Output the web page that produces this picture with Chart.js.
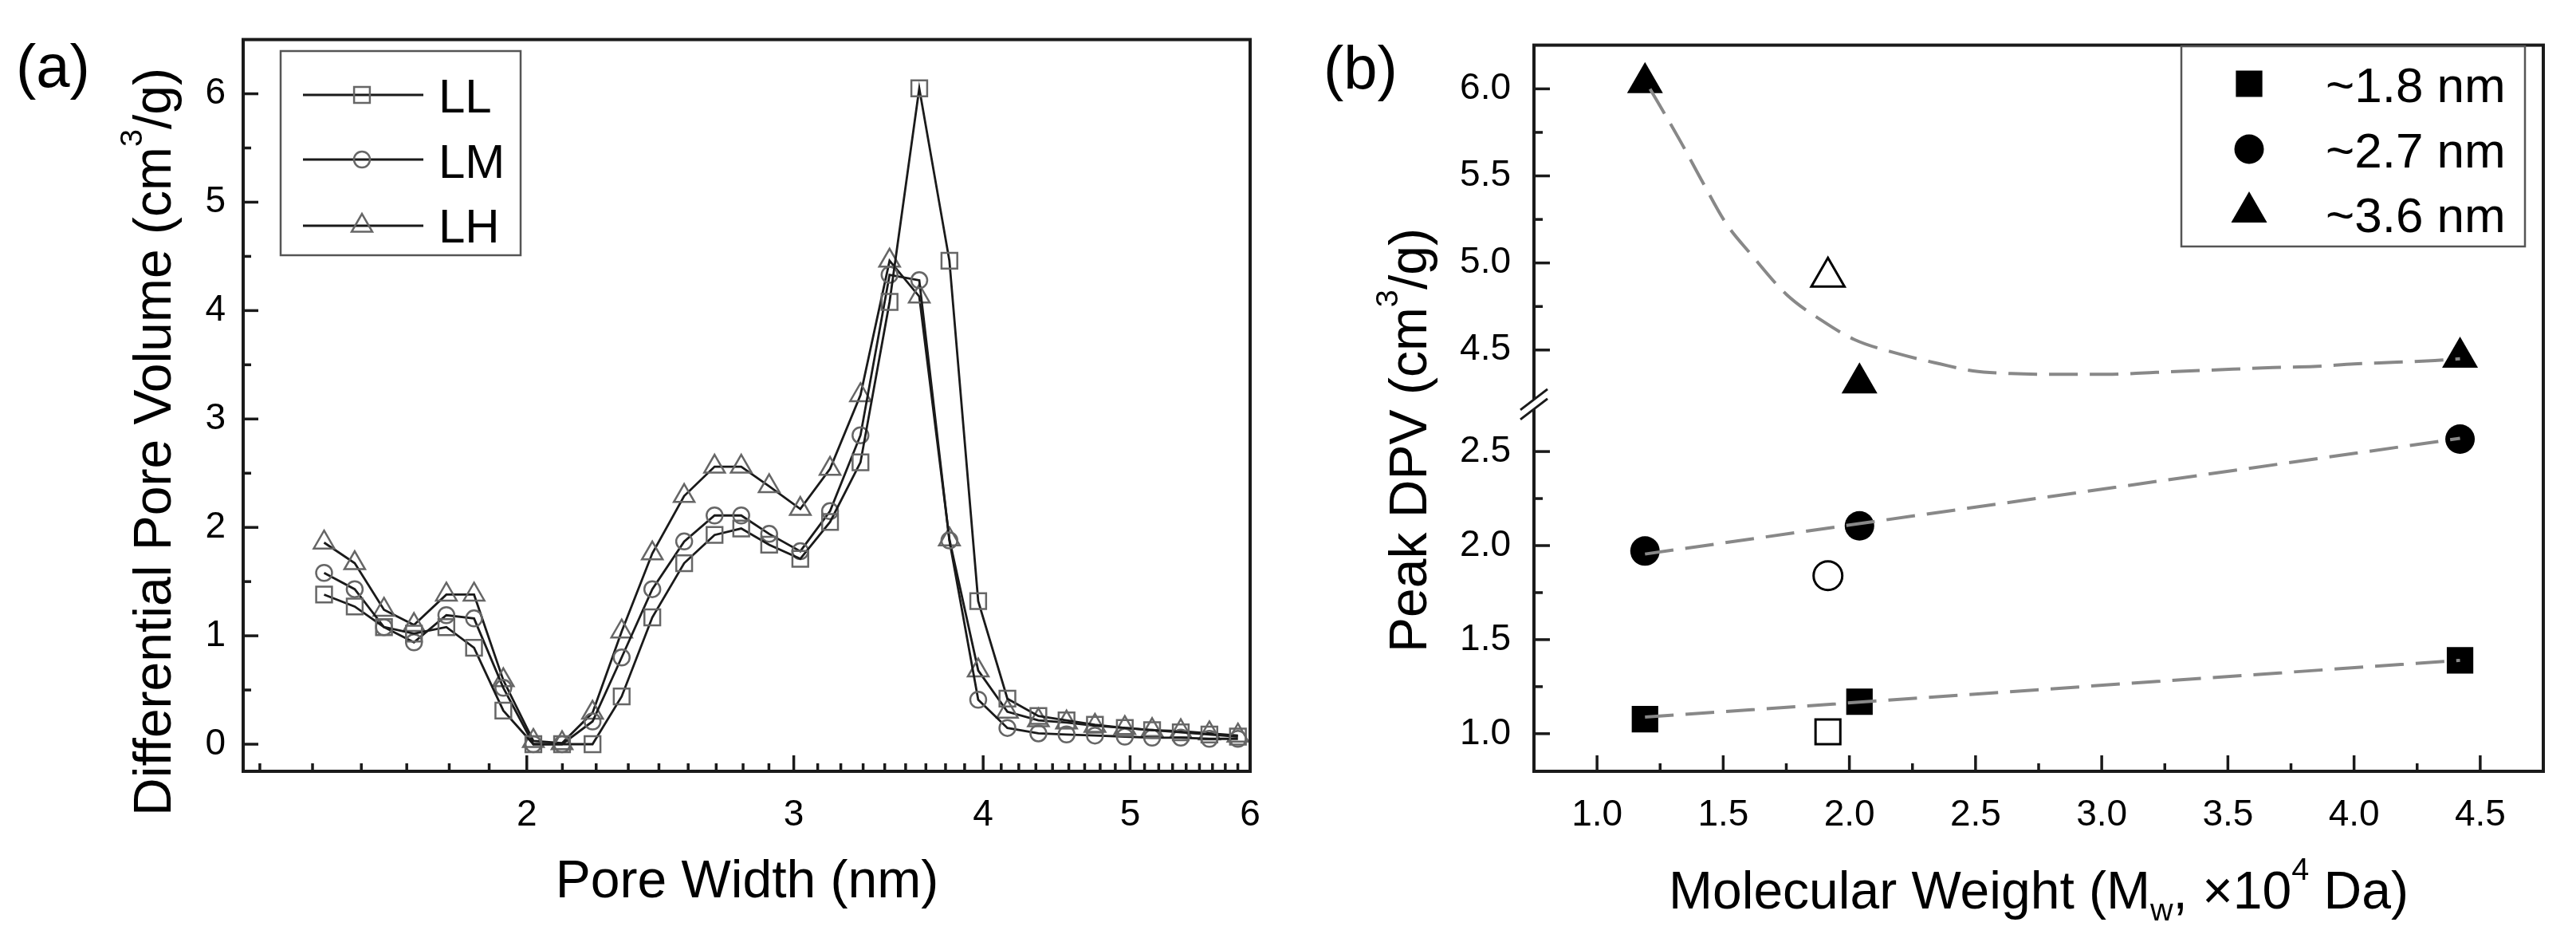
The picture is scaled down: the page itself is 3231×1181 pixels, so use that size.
<!DOCTYPE html>
<html>
<head>
<meta charset="utf-8">
<script src="https://cdn.jsdelivr.net/npm/chart.js@4.4.1/dist/chart.umd.min.js"></script>
<style>
  html, body { margin: 0; padding: 0; background: #fff; }
  #wrap { position: relative; width: 3231px; height: 1181px; }
  canvas { position: absolute; left: 0; top: 0; }
</style>
</head>
<body>
<div id="wrap">
  <canvas id="chartA" width="3231" height="1181"></canvas>
  <canvas id="chartB" width="3231" height="1181"></canvas>
</div>
<script>
// ---------- panel (a): differential pore volume ----------
const poreWidth = [1.47, 1.54, 1.61, 1.685, 1.77, 1.846, 1.93, 2.02, 2.11, 2.21, 2.31,
  2.42, 2.54, 2.66, 2.77, 2.89, 3.03, 3.17, 3.32, 3.47, 3.63, 3.80, 3.97, 4.15,
  4.35, 4.54, 4.74, 4.96, 5.17, 5.40, 5.64, 5.89];
const dpvLL = [1.38, 1.27, 1.08, 1.02, 1.08, 0.89, 0.31, 0.00, 0.00, 0.00, 0.44,
  1.17, 1.67, 1.93, 1.99, 1.84, 1.71, 2.05, 2.60, 4.08, 6.05, 4.46, 1.32, 0.42,
  0.26, 0.22, 0.18, 0.15, 0.13, 0.11, 0.09, 0.07];
const dpvLM = [1.58, 1.43, 1.08, 0.94, 1.19, 1.16, 0.52, 0.00, 0.00, 0.21, 0.80,
  1.43, 1.87, 2.11, 2.11, 1.94, 1.78, 2.15, 2.85, 4.33, 4.28, 1.88, 0.41, 0.15,
  0.10, 0.09, 0.08, 0.07, 0.06, 0.06, 0.05, 0.05];
const dpvLH = [1.86, 1.67, 1.24, 1.10, 1.38, 1.38, 0.59, 0.03, 0.01, 0.29, 1.04,
  1.76, 2.29, 2.56, 2.56, 2.38, 2.17, 2.54, 3.22, 4.46, 4.13, 1.89, 0.68, 0.30,
  0.22, 0.20, 0.17, 0.15, 0.13, 0.12, 0.10, 0.08];
const seriesA = ['LL', 'LM', 'LH'];
const xTicksA = [2, 3, 4, 5, 6];
const yTicksA = [0, 1, 2, 3, 4, 5, 6];

// ---------- panel (b): peak DPV vs molecular weight ----------
const mwFilled = [1.19, 2.04, 4.42];
const peak18 = [1.077, 1.17, 1.39];
const peak27 = [1.971, 2.105, 2.566];
const peak36 = [6.035, 4.31, 4.458];
const mwOpen = [1.915];
const open18 = [1.01];
const open27 = [1.84];
const open36 = [4.92];
const fit18X = [1.19, 4.42];
const fit18Y = [1.088, 1.39];
const fit27X = [1.19, 4.42];
const fit27Y = [1.955, 2.57];
const fit36X = [1.21, 1.33, 1.42, 1.51, 1.61, 1.75, 1.89, 2.02, 2.19, 2.36, 2.49, 2.64,
  2.86, 3.02, 3.19, 3.35, 3.52, 3.68, 3.84, 4.00, 4.17, 4.32, 4.42];
const fit36Y = [6.00, 5.70, 5.46, 5.23, 5.05, 4.82, 4.67, 4.56, 4.48, 4.42, 4.38, 4.365,
  4.36, 4.36, 4.37, 4.38, 4.39, 4.40, 4.405, 4.42, 4.43, 4.44, 4.45];
const seriesB = ['~1.8 nm', '~2.7 nm', '~3.6 nm'];
const xTicksB = [1.0, 1.5, 2.0, 2.5, 3.0, 3.5, 4.0, 4.5];
const yTicksLow = [1.0, 1.5, 2.0, 2.5];
const yTicksHigh = [4.5, 5.0, 5.5, 6.0];

const FONT = "'Liberation Sans', Arial, sans-serif";
const zip = (xs, ys) => xs.map((x, i) => ({ x: x, y: ys[i] }));

// tick labels in the original are a narrow sans; use it if the system has one
function hasFont(name) {
  const c = document.createElement('canvas').getContext('2d');
  c.font = "50px monospace";
  const w0 = c.measureText('2.0 4.5 1.0').width;
  c.font = "50px '" + name + "', monospace";
  return c.measureText('2.0 4.5 1.0').width !== w0;
}
const tickFont = hasFont('Liberation Sans Narrow')
  ? { family: "'Liberation Sans Narrow', " + FONT, size: 50 }
  : { family: FONT, size: 46 };

// minor ticks on the log axis: n + k/9 between integers
const minorLogA = [];
for (let n = 1; n < 6; n++) {
  for (let k = 1; k < 9; k++) {
    const v = n + k / 9;
    if (v > 1.3) minorLogA.push(v);
  }
}

function drawMarker(ctx, style, r, x, y) {
  ctx.beginPath();
  if (style === 'rect') {
    const s = Math.SQRT1_2 * r;
    ctx.rect(x - s, y - s, 2 * s, 2 * s);
  } else if (style === 'triangle') {
    for (let i = 0; i < 3; i++) {
      const a = i * 2 * Math.PI / 3;
      const px = x + Math.sin(a) * r, py = y - Math.cos(a) * r;
      if (i === 0) ctx.moveTo(px, py); else ctx.lineTo(px, py);
    }
    ctx.closePath();
  } else {
    ctx.arc(x, y, r, 0, Math.PI * 2);
  }
}

function drawRich(ctx, segs, x, y, size, rot, align) {
  ctx.save();
  ctx.translate(x, y);
  ctx.rotate(rot || 0);
  ctx.textBaseline = 'alphabetic';
  ctx.textAlign = 'left';
  ctx.fillStyle = '#000';
  let total = 0;
  const parts = segs.map(s => {
    const fs = (s.sup || s.sub) ? size * 0.6 : size;
    ctx.font = fs + 'px ' + FONT;
    const w = ctx.measureText(s.t).width;
    total += w;
    return { s: s, fs: fs, w: w };
  });
  let cx = align === 'center' ? -total / 2 : 0;
  parts.forEach(p => {
    ctx.font = p.fs + 'px ' + FONT;
    const dy = p.s.sup ? -size * 0.55 : (p.s.sub ? size * 0.22 : 0);
    ctx.fillText(p.s.t, cx, dy);
    cx += p.w;
  });
  ctx.restore();
}

// frame, inward ticks, axis break, titles and legend
const decor = {
  id: 'decor',
  afterDraw(chart, args, o) {
    const ctx = chart.ctx, a = chart.chartArea;
    ctx.save();
    ctx.strokeStyle = '#1a1a1a';
    ctx.lineWidth = 4;
    ctx.strokeRect(a.left, a.top, a.right - a.left, a.bottom - a.top);
    ctx.lineWidth = 3.5;
    o.marks.forEach(m => {
      const s = chart.scales[m.scale];
      m.values.forEach(v => {
        const p = s.getPixelForValue(v);
        ctx.beginPath();
        if (s.isHorizontal()) { ctx.moveTo(p, a.bottom); ctx.lineTo(p, a.bottom - m.len); }
        else { ctx.moveTo(a.left, p); ctx.lineTo(a.left + m.len, p); }
        ctx.stroke();
      });
    });
    if (o.breakScale) {
      const yb = chart.scales[o.breakScale].bottom;
      const x0 = a.left, dx = 17, dy = 13, off = 6;
      ctx.fillStyle = '#fff';
      ctx.beginPath();
      ctx.moveTo(x0 - dx, yb + dy - off);
      ctx.lineTo(x0 + dx, yb - dy - off);
      ctx.lineTo(x0 + dx, yb - dy + off);
      ctx.lineTo(x0 - dx, yb + dy + off);
      ctx.closePath();
      ctx.fill();
      ctx.lineWidth = 3;
      [-off, off].forEach(d => {
        ctx.beginPath();
        ctx.moveTo(x0 - dx, yb + dy + d);
        ctx.lineTo(x0 + dx, yb - dy + d);
        ctx.stroke();
      });
    }
    o.texts.forEach(t => drawRich(ctx, t.segs, t.x, t.y, t.size, t.rot, t.align));
    const L = o.legend;
    ctx.strokeStyle = '#555';
    ctx.lineWidth = 2.5;
    ctx.strokeRect(L.box[0], L.box[1], L.box[2] - L.box[0], L.box[3] - L.box[1]);
    L.items.forEach((it, i) => {
      const ds = chart.data.datasets[it.ds];
      const y = L.rows[i];
      if (L.line) {
        ctx.strokeStyle = ds.borderColor;
        ctx.lineWidth = ds.borderWidth;
        ctx.beginPath();
        ctx.moveTo(L.line[0], y); ctx.lineTo(L.line[1], y);
        ctx.stroke();
      }
      drawMarker(ctx, ds.pointStyle, ds.pointRadius, L.markerX, y);
      if (ds.pointBackgroundColor && ds.pointBackgroundColor !== 'transparent') {
        ctx.fillStyle = ds.pointBackgroundColor; ctx.fill();
      }
      if (ds.pointBorderWidth > 0) {
        ctx.strokeStyle = ds.pointBorderColor; ctx.lineWidth = ds.pointBorderWidth; ctx.stroke();
      }
      ctx.fillStyle = '#000';
      ctx.font = L.size + 'px ' + FONT;
      ctx.textBaseline = 'alphabetic';
      ctx.textAlign = 'left';
      ctx.fillText(it.label, L.textX, L.base[i]);
    });
    ctx.restore();
  }
};

const noGrid = { display: false, drawTicks: false };
const setTicks = list => s => { s.ticks = list.map(v => ({ value: v })); };

// ---------- chart (a) ----------
const lineA = (label, ys, style, r) => ({
  label: label,
  data: zip(poreWidth, ys),
  showLine: true,
  borderColor: '#1a1a1a',
  borderWidth: 2.8,
  pointStyle: style,
  pointRadius: r,
  pointBackgroundColor: 'transparent',
  pointBorderColor: '#666',
  pointBorderWidth: 2.5,
  tension: 0
});

new Chart(document.getElementById('chartA'), {
  type: 'scatter',
  data: {
    datasets: [
      lineA(seriesA[0], dpvLL, 'rect', 14),
      lineA(seriesA[1], dpvLM, 'circle', 10),
      lineA(seriesA[2], dpvLH, 'triangle', 15)
    ]
  },
  options: {
    responsive: false,
    animation: false,
    devicePixelRatio: 1,
    layout: { padding: { left: 205, right: 1663, top: 37, bottom: 114 } },
    plugins: {
      legend: { display: false },
      tooltip: { enabled: false },
      decor: {
        marks: [
          { scale: 'x', values: xTicksA, len: 20 },
          { scale: 'x', values: minorLogA, len: 10 },
          { scale: 'y', values: yTicksA, len: 19 },
          { scale: 'y', values: [0.5, 1.5, 2.5, 3.5, 4.5, 5.5], len: 10 }
        ],
        texts: [
          { segs: [{ t: '(a)' }], x: 20, y: 109, size: 76 },
          { segs: [{ t: 'Pore Width (nm)' }], x: 937, y: 1125, size: 66, align: 'center' },
          { segs: [{ t: 'Differential Pore Volume (cm' }, { t: '3', sup: true }, { t: '/g)' }],
            x: 214, y: 554, size: 66, rot: -Math.PI / 2, align: 'center' }
        ],
        legend: {
          box: [352, 64, 653, 320],
          line: [380, 531],
          markerX: 454,
          rows: [119, 200, 283],
          base: [141, 223, 304],
          textX: 550,
          size: 60,
          items: [{ ds: 0, label: seriesA[0] }, { ds: 1, label: seriesA[1] }, { ds: 2, label: seriesA[2] }]
        }
      }
    },
    scales: {
      x: {
        type: 'logarithmic', min: 1.3, max: 6,
        afterBuildTicks: setTicks(xTicksA),
        afterFit: s => { s.height = 100; },
        grid: noGrid, border: { display: false },
        ticks: { font: tickFont, color: '#000', padding: 28, maxRotation: 0, autoSkip: false,
          callback: v => String(v) }
      },
      y: {
        type: 'linear', min: -0.25, max: 6.5,
        afterBuildTicks: setTicks(yTicksA),
        afterFit: s => { s.width = 100; },
        grid: noGrid, border: { display: false },
        ticks: { font: tickFont, color: '#000', padding: 22, callback: v => String(v) }
      }
    }
  },
  plugins: [decor]
});

// ---------- chart (b) ----------
const fitLine = (xs, ys, axis) => ({
  data: zip(xs, ys),
  yAxisID: axis,
  showLine: true,
  borderColor: '#888',
  borderWidth: 4,
  borderDash: [36, 15],
  pointRadius: 0,
  cubicInterpolationMode: 'monotone',
  order: 0
});
const marks = (label, xs, ys, axis, style, r, filled) => ({
  label: label,
  data: zip(xs, ys),
  yAxisID: axis,
  showLine: false,
  pointStyle: style,
  pointRadius: r,
  pointBackgroundColor: filled ? '#000' : 'transparent',
  pointBorderColor: '#000',
  pointBorderWidth: filled ? 0 : 3,
  order: 1
});

new Chart(document.getElementById('chartB'), {
  type: 'scatter',
  data: {
    datasets: [
      marks(seriesB[0], mwFilled, peak18, 'yLow', 'rect', 23.5, true),
      marks(seriesB[1], mwFilled, peak27, 'yLow', 'circle', 18.5, true),
      marks(seriesB[2], mwFilled, peak36, 'yHigh', 'triangle', 26, true),
      marks('open 1.8', mwOpen, open18, 'yLow', 'rect', 22, false),
      marks('open 2.7', mwOpen, open27, 'yLow', 'circle', 18, false),
      marks('open 3.6', mwOpen, open36, 'yHigh', 'triangle', 24, false),
      fitLine(fit18X, fit18Y, 'yLow'),
      fitLine(fit27X, fit27Y, 'yLow'),
      fitLine(fit36X, fit36Y, 'yHigh')
    ]
  },
  options: {
    responsive: false,
    animation: false,
    devicePixelRatio: 1,
    layout: { padding: { left: 1824, right: 41, top: 37, bottom: 114 } },
    plugins: {
      legend: { display: false },
      tooltip: { enabled: false },
      decor: {
        marks: [
          { scale: 'x', values: xTicksB, len: 20 },
          { scale: 'x', values: [1.25, 1.75, 2.25, 2.75, 3.25, 3.75, 4.25], len: 10 },
          { scale: 'yLow', values: yTicksLow, len: 20 },
          { scale: 'yLow', values: [1.25, 1.75, 2.25], len: 11 },
          { scale: 'yHigh', values: yTicksHigh, len: 20 },
          { scale: 'yHigh', values: [4.75, 5.25, 5.75], len: 11 }
        ],
        breakScale: 'yHigh',
        texts: [
          { segs: [{ t: '(b)' }], x: 1660, y: 111, size: 76 },
          { segs: [{ t: 'Molecular Weight (M' }, { t: 'w', sub: true }, { t: ', \u00d710' },
            { t: '4', sup: true }, { t: ' Da)' }], x: 2557, y: 1139, size: 66, align: 'center' },
          { segs: [{ t: 'Peak DPV (cm' }, { t: '3', sup: true }, { t: '/g)' }],
            x: 1789, y: 552, size: 66, rot: -Math.PI / 2, align: 'center' }
        ],
        legend: {
          box: [2736, 58, 3167, 309],
          line: null,
          markerX: 2821,
          rows: [105, 187, 266],
          base: [128, 210, 291],
          textX: 2917,
          size: 62,
          items: [{ ds: 0, label: seriesB[0] }, { ds: 1, label: seriesB[1] }, { ds: 2, label: seriesB[2] }]
        }
      }
    },
    scales: {
      x: {
        type: 'linear', min: 0.75, max: 4.75,
        afterBuildTicks: setTicks(xTicksB),
        afterFit: s => { s.height = 100; },
        grid: noGrid, border: { display: false },
        ticks: { font: tickFont, color: '#000', padding: 28, maxRotation: 0, autoSkip: false,
          callback: v => v.toFixed(1) }
      },
      yLow: {
        type: 'linear', position: 'left', stack: 'peak', stackWeight: 470,
        min: 0.8, max: 2.751,
        afterBuildTicks: setTicks(yTicksLow),
        afterFit: s => { s.width = 100; },
        grid: noGrid, border: { display: false },
        ticks: { font: tickFont, color: '#000', padding: 29, callback: v => v.toFixed(1) }
      },
      yHigh: {
        type: 'linear', position: 'left', stack: 'peak', stackWeight: 460,
        min: 4.188, max: 6.251,
        afterBuildTicks: setTicks(yTicksHigh),
        afterFit: s => { s.width = 100; },
        grid: noGrid, border: { display: false },
        ticks: { font: tickFont, color: '#000', padding: 29, callback: v => v.toFixed(1) }
      }
    }
  },
  plugins: [decor]
});
</script>
</body>
</html>
